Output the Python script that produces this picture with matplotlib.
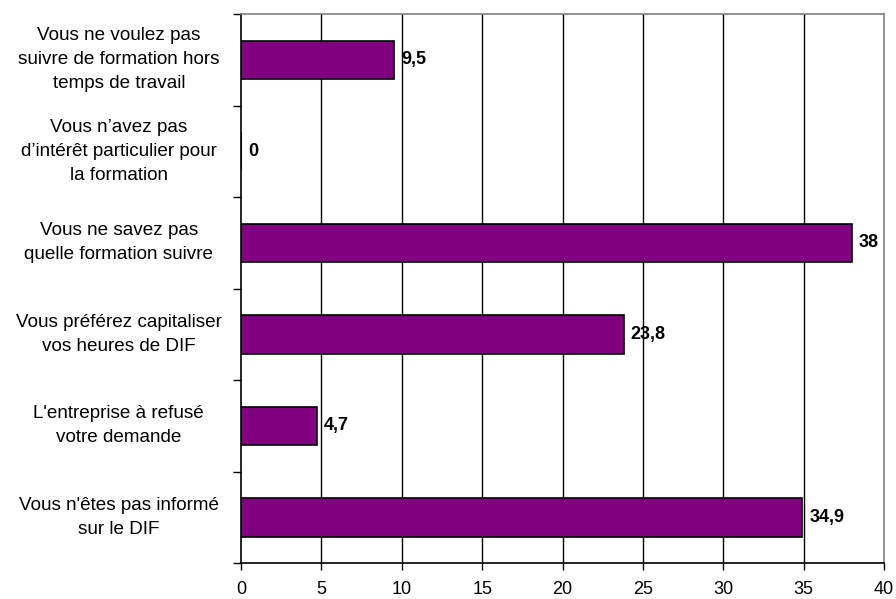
import matplotlib.pyplot as plt
import numpy as np

# categories from bottom to top
categories = [
    "Vous n'êtes pas informé\nsur le DIF",
    "L'entreprise à refusé\nvotre demande",
    "Vous préférez capitaliser\nvos heures de DIF",
    "Vous ne savez pas\nquelle formation suivre",
    "Vous n’avez pas\nd’intérêt particulier pour\nla formation",
    "Vous ne voulez pas\nsuivre de formation hors\ntemps de travail",
]
values = [34.9, 4.7, 23.8, 38, 0, 9.5]
value_labels = ["34,9", "4,7", "23,8", "38", "0", "9,5"]
xticks = [0, 5, 10, 15, 20, 25, 30, 35, 40]

plt.rcParams['font.family'] = ['Liberation Sans', 'DejaVu Sans']

fig = plt.figure(figsize=(8.96, 5.99), dpi=100)
ax = fig.add_axes([0.269, 0.06, 0.7176, 0.9166])

y = np.arange(len(categories))
ax.barh(y, values, height=0.42, color='#800080', edgecolor='black', linewidth=1.2, zorder=3)

for yi, v, lab in zip(y, values, value_labels):
    ax.text(v + 0.45, yi, lab, va='center', ha='left', fontsize=13, fontweight='bold', zorder=4)

ax.set_xlim(0, 40)
ax.set_ylim(-0.5, len(categories) - 0.5)
ax.set_xticks(xticks)
ax.set_xticklabels([str(t) for t in xticks], fontsize=13)

# category labels without tick marks, tick marks at boundaries
ax.set_yticks(y)
ax.set_yticklabels(categories, fontsize=13.6, ha='center', va='center', linespacing=1.55)
ax.tick_params(axis='y', which='major', length=0, pad=88)
ax.set_yticks(np.arange(-0.5, len(categories)), minor=True)
ax.tick_params(axis='y', which='minor', length=6, width=1, color='black', direction='out')
ax.tick_params(axis='x', length=5, width=1, direction='out', pad=8)

for xv in xticks[1:-1]:
    ax.axvline(xv, color='black', linewidth=1, zorder=1)

ax.spines['top'].set_color('#808080')
ax.spines['right'].set_color('#808080')
ax.spines['left'].set_color('black')
ax.spines['bottom'].set_color('black')
for s in ax.spines.values():
    s.set_linewidth(1.2)

fig.savefig('out.png', dpi=100)
